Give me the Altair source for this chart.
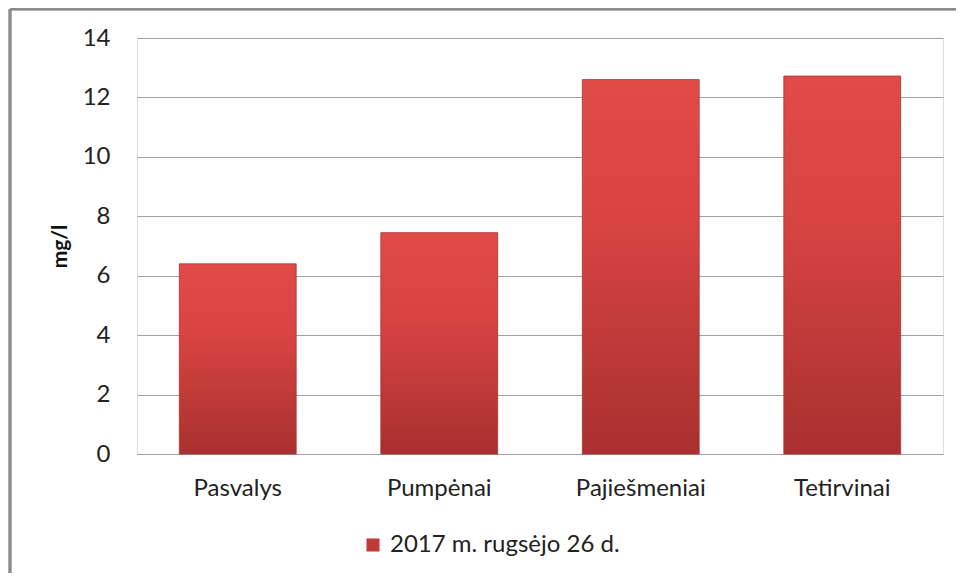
import altair as alt
import pandas as pd

categories = ["Pasvalys", "Pumpėnai", "Pajiešmeniai", "Tetirvinai"]
values = [6.4, 7.45, 12.6, 12.72]
series = "2017 m. rugsėjo 26 d."
y_ticks = [0, 2, 4, 6, 8, 10, 12, 14]

df = pd.DataFrame({"cat": categories, "val": values, "series": [series] * len(categories)})

FONT = "Lato"
W, H = 806, 416

gradient = alt.Gradient(
    gradient="linear",
    stops=[
        alt.GradientStop(color="#e04b48", offset=0),
        alt.GradientStop(color="#d64341", offset=0.4),
        alt.GradientStop(color="#a8302f", offset=1),
    ],
    x1=0, x2=0, y1=0, y2=1,
)

x_enc = alt.X(
    "cat:N", sort=categories, title=None,
    scale=alt.Scale(paddingInner=0.42, paddingOuter=0.21),
    axis=alt.Axis(labelAngle=0, labelFontSize=24, labelFont=FONT, labelColor="#222222",
                  labelPadding=22, ticks=False, domainColor="#a0a0a0", domainWidth=1.2),
)
y_enc = alt.Y(
    "val:Q", title="mg/l",
    scale=alt.Scale(domain=[0, 14]),
    axis=alt.Axis(values=y_ticks, labelFontSize=24, labelFont=FONT, labelColor="#222222",
                  labelPadding=27, ticks=False, domain=False, gridColor="#a0a0a0",
                  gridWidth=1.2, titleFont=FONT, titleFontSize=21, titleFontWeight="bold",
                  titleColor="#111111", titlePadding=12),
)

bars = alt.Chart(df).mark_bar(
    color=gradient, stroke="#a83331", strokeWidth=0.8,
).encode(x=x_enc, y=y_enc)

legend_layer = alt.Chart(df).mark_bar(opacity=0).encode(
    x=alt.X("cat:N", sort=categories),
    y=alt.Y("val:Q"),
    fill=alt.Fill(
        "series:N", title=None,
        scale=alt.Scale(range=["#c13a38"]),
        legend=alt.Legend(orient="none", legendX=224, legendY=495, symbolType="square",
                          symbolSize=170, symbolOpacity=1, symbolStrokeWidth=0,
                          labelFontSize=24, labelFont=FONT, labelColor="#222222",
                          labelOffset=5, labelLimit=0),
    ),
)

frame_top = alt.Chart(df).mark_rule(color="#8c8c8c", strokeWidth=2.5).encode(
    x=alt.value(-127), x2=alt.value(W + 40), y=alt.value(-29)
)
frame_left = alt.Chart(df).mark_rule(color="#8c8c8c", strokeWidth=2.5).encode(
    x=alt.value(-127), y=alt.value(-29), y2=alt.value(H + 140)
)

chart = alt.layer(bars, legend_layer, frame_top, frame_left).properties(
    width=W, height=H,
    autosize=alt.AutoSizeParams(type="none"),
    padding={"left": 129, "top": 30, "right": 13, "bottom": 119},
).configure_view(stroke=None).configure(background="white")

chart.save("out.html", embed_options={"renderer": "svg", "actions": False})
